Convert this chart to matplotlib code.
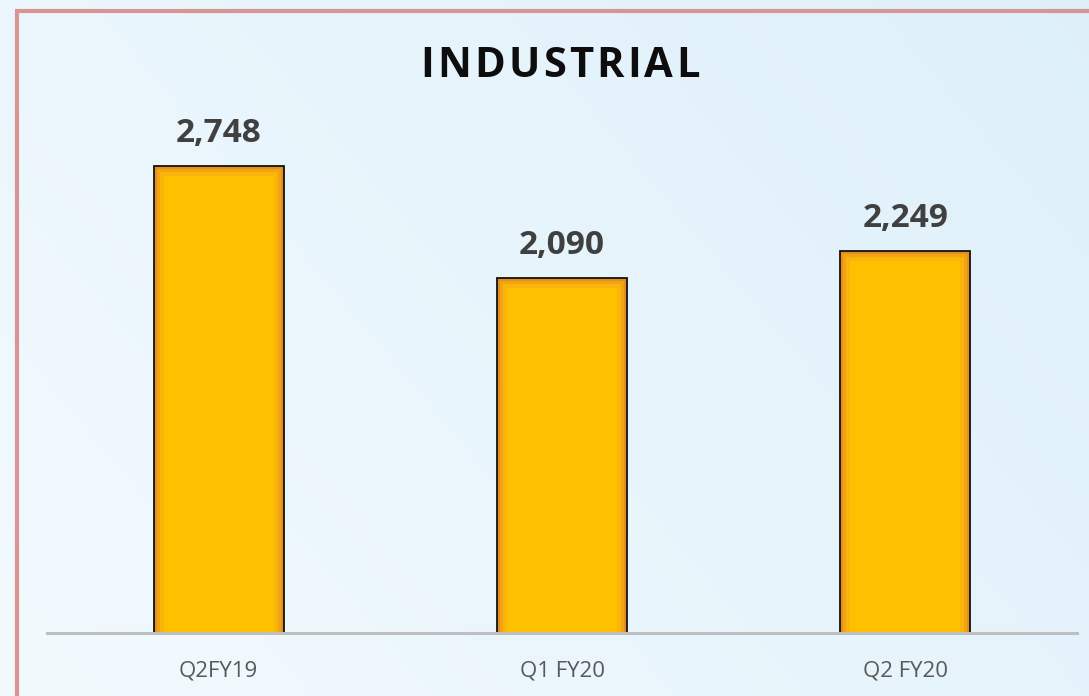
import numpy as np
import matplotlib
matplotlib.use("Agg")
from matplotlib import pyplot as plt

# Data
categories = ["Q2FY19", "Q1 FY20", "Q2 FY20"]
values = [2748, 2090, 2249]
title = "INDUSTRIAL"

plt.rcParams["font.family"] = ["Open Sans", "DejaVu Sans"]

W, H = 1089, 696
fig = plt.figure(figsize=(W / 100, H / 100), dpi=100)

# Soft blue slide background
bg = fig.add_axes([0, 0, 1, 1], zorder=-10)
gx = np.linspace(0, 1, 256)
gy = np.linspace(0, 1, 256)
X, Y = np.meshgrid(gx, gy)
t = np.clip(0.65 * X + 0.35 * (1 - Y), 0, 1)
c0 = np.array([0.95, 0.98, 0.995])
c1 = np.array([0.87, 0.94, 0.98])
img = c0[None, None, :] * (1 - t[..., None]) + c1[None, None, :] * t[..., None]
bg.imshow(img, extent=[0, 1, 0, 1], aspect="auto", origin="upper")
bg.set_xlim(0, 1)
bg.set_ylim(0, 1)
bg.axis("off")

# Pink frame along the top and left
fig.add_artist(plt.Line2D([16.5 / W, 16.5 / W], [0, 1 - 11 / H], transform=fig.transFigure,
                          color="#d99594", lw=3, solid_capstyle="butt"))
fig.add_artist(plt.Line2D([15 / W, 1], [1 - 11 / H, 1 - 11 / H], transform=fig.transFigure,
                          color="#d99594", lw=3, solid_capstyle="butt"))

ax = fig.add_axes([47 / W, 63 / H, 1030 / W, 510 / H])
ax.patch.set_alpha(0)
ymax = 3000
ax.set_xlim(-0.5, 2.5)
ax.set_ylim(0, ymax)

x = np.arange(len(categories))
bw = 130 / 343

# bars with an orange inner glow, drawn as nested layers
px_x = 1 / 343
px_y = ymax / 510
layers = [("#e48e1e", 0), ("#f2a314", 3), ("#f9b50a", 6), ("#ffc000", 10)]
for col, inset in layers:
    ax.bar(x, [v - inset * px_y for v in values], width=bw - 2 * inset * px_x,
           color=col, linewidth=0, zorder=2)
ax.bar(x, values, width=bw, fill=False, edgecolor="#111111", linewidth=1.3, zorder=3)

for xi, v in zip(x, values):
    ax.annotate(f"{v:,}", xy=(xi, v), xytext=(0, 17), textcoords="offset points",
                ha="center", va="baseline", fontsize=24, fontweight="bold", color="#404040")

for s in ["top", "left", "right"]:
    ax.spines[s].set_visible(False)
ax.spines["bottom"].set_color("#bfbfbf")
ax.spines["bottom"].set_linewidth(2.2)
ax.spines["bottom"].set_zorder(4)
ax.set_yticks([])
ax.set_xticks(x, categories)
ax.tick_params(axis="x", length=0, pad=20, labelsize=16, labelcolor="#595959")

# Title with letter spacing: place each letter, then centre the whole word
renderer = fig.canvas.get_renderer()
spacing = 3.2
letters = []
cursor = 0.0
for ch in title:
    tx = fig.text(0, 1 - 77 / H, ch, ha="left", va="baseline",
                  fontsize=30, fontweight="bold", color="#0d0d0d")
    w = tx.get_window_extent(renderer).width
    letters.append((tx, cursor))
    cursor += w + spacing
total = cursor - spacing
start = 560 - total / 2
for tx, off in letters:
    tx.set_x((start + off) / W)

fig.savefig("out.png", dpi=100)
